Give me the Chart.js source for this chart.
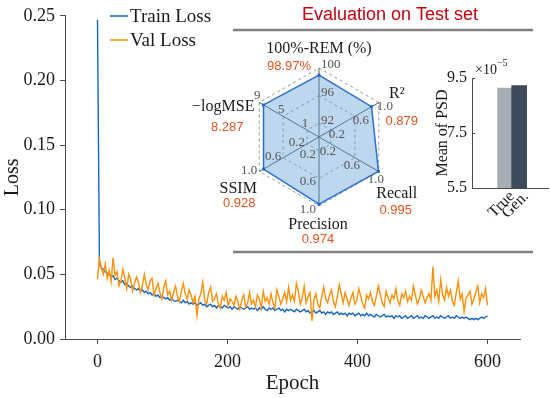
<!DOCTYPE html>
<html><head><meta charset="utf-8">
<script src="https://cdn.jsdelivr.net/npm/chart.js@4.4.1/dist/chart.umd.min.js"></script>
<style>
html,body{margin:0;padding:0;background:#fff;}
#wrap{position:relative;width:550px;height:398px;overflow:hidden;background:#fff;}
canvas{position:absolute;}
</style></head><body>
<div id="wrap">
<canvas id="main" width="550" height="398" style="left:0;top:0"></canvas>
<canvas id="radar" width="268" height="210" style="left:185px;top:40px"></canvas>
<canvas id="bar" width="130" height="170" style="left:420px;top:55px"></canvas>
</div>
<script>
// ---------------- data ----------------
const epochs = [
0,3,6,9,12,15,18,21,24,27,
30,33,36,39,42,45,48,51,54,57,
60,63,66,69,72,75,78,81,84,87,
90,93,96,99,102,105,108,111,114,117,
120,123,126,129,132,135,138,141,144,147,
150,153,156,159,162,165,168,171,174,177,
180,183,186,189,192,195,198,201,204,207,
210,213,216,219,222,225,228,231,234,237,
240,243,246,249,252,255,258,261,264,267,
270,273,276,279,282,285,288,291,294,297,
300,303,306,309,312,315,318,321,324,327,
330,333,336,339,342,345,348,351,354,357,
360,363,366,369,372,375,378,381,384,387,
390,393,396,399,402,405,408,411,414,417,
420,423,426,429,432,435,438,441,444,447,
450,453,456,459,462,465,468,471,474,477,
480,483,486,489,492,495,498,501,504,507,
510,513,516,519,522,525,528,531,534,537,
540,543,546,549,552,555,558,561,564,567,
570,573,576,579,582,585,588,591,594,597,
600];
const trainLoss = [
0.247,0.058,0.055,0.054,0.052,0.051,0.050,0.048,0.049,0.046,
0.047,0.045,0.044,0.045,0.042,0.043,0.041,0.040,0.041,0.039,
0.038,0.039,0.037,0.038,0.036,0.037,0.035,0.036,0.034,0.035,
0.033,0.034,0.032,0.033,0.032,0.031,0.032,0.030,0.031,0.030,
0.029,0.030,0.029,0.028,0.030,0.028,0.029,0.027,0.028,0.027,
0.028,0.026,0.027,0.028,0.026,0.027,0.025,0.026,0.027,0.025,
0.026,0.024,0.026,0.025,0.024,0.026,0.025,0.024,0.025,0.023,
0.025,0.024,0.023,0.025,0.024,0.023,0.024,0.025,0.023,0.024,
0.023,0.024,0.022,0.024,0.023,0.025,0.023,0.022,0.024,0.023,
0.024,0.022,0.023,0.024,0.022,0.023,0.021,0.023,0.022,0.023,
0.022,0.021,0.023,0.022,0.021,0.022,0.023,0.021,0.022,0.020,
0.021,0.022,0.020,0.021,0.022,0.020,0.021,0.019,0.021,0.020,
0.021,0.019,0.020,0.021,0.019,0.020,0.019,0.020,0.018,0.020,
0.019,0.020,0.018,0.019,0.020,0.018,0.019,0.018,0.020,0.018,
0.019,0.018,0.017,0.019,0.018,0.017,0.018,0.019,0.017,0.018,
0.017,0.018,0.016,0.018,0.017,0.018,0.016,0.017,0.018,0.016,
0.017,0.018,0.016,0.017,0.018,0.016,0.017,0.016,0.018,0.017,
0.016,0.017,0.018,0.016,0.017,0.016,0.018,0.017,0.016,0.017,
0.018,0.016,0.017,0.016,0.018,0.017,0.016,0.017,0.016,0.017,
0.016,0.015,0.016,0.015,0.016,0.015,0.016,0.017,0.016,0.017,
0.018];
const valLoss = [
0.046,0.062,0.055,0.050,0.058,0.047,0.053,0.044,0.063,0.049,
0.052,0.041,0.045,0.054,0.047,0.039,0.050,0.046,0.037,0.043,
0.048,0.044,0.036,0.041,0.050,0.042,0.038,0.045,0.047,0.034,
0.039,0.043,0.036,0.031,0.040,0.045,0.034,0.037,0.030,0.036,
0.041,0.033,0.029,0.037,0.043,0.035,0.031,0.038,0.034,0.028,
0.033,0.018,0.031,0.035,0.044,0.030,0.027,0.036,0.040,0.029,
0.031,0.035,0.027,0.024,0.033,0.030,0.036,0.026,0.031,0.029,
0.026,0.033,0.029,0.023,0.030,0.034,0.025,0.028,0.036,0.027,
0.030,0.025,0.034,0.031,0.024,0.037,0.029,0.032,0.027,0.035,
0.028,0.024,0.038,0.033,0.027,0.031,0.036,0.029,0.040,0.030,
0.034,0.029,0.043,0.037,0.027,0.032,0.041,0.028,0.033,0.036,
0.014,0.030,0.035,0.027,0.024,0.033,0.040,0.031,0.028,0.034,
0.038,0.029,0.025,0.033,0.042,0.035,0.028,0.036,0.031,0.026,
0.032,0.036,0.027,0.030,0.039,0.033,0.027,0.024,0.034,0.031,
0.036,0.029,0.026,0.033,0.041,0.035,0.028,0.025,0.037,0.032,
0.028,0.034,0.031,0.039,0.030,0.026,0.035,0.032,0.037,0.029,
0.033,0.030,0.041,0.034,0.027,0.031,0.038,0.033,0.028,0.032,
0.035,0.030,0.056,0.033,0.038,0.029,0.046,0.034,0.030,0.040,
0.033,0.038,0.029,0.026,0.036,0.045,0.031,0.035,0.021,0.032,
0.034,0.037,0.027,0.031,0.036,0.041,0.028,0.035,0.032,0.039,
0.026];
const seriesNames = ['Train Loss', 'Val Loss'];
const xTickValues = [0, 200, 400, 600];
const yTickStep = 0.05;

const metricNames = ['100%-REM (%)', 'R²', 'Recall', 'Precision', 'SSIM', '−logMSE'];
const metricValues = [98.97, 0.879, 0.995, 0.974, 0.928, 8.287];
const metricValueText = ['98.97%', '0.879', '0.995', '0.974', '0.928', '8.287'];
const metricAxisMin = [90, 0, 0, 0, 0, -1];
const metricAxisMax = [100, 1, 1, 1, 1, 9];
const metricGridLevels = [0, 0.2, 0.6, 1.0];
const metricTickLabels = [
  ['92', '96', '100'],
  ['0.2', '0.6', '1.0'],
  ['0.2', '0.6', '1.0'],
  ['0.2', '0.6', '1.0'],
  ['0.2', '0.6', '1.0'],
  ['1', '5', '9']
];

const psdCategories = ['True', 'Gen.'];
const psdValues = [9.13, 9.22];      // in units of 10^-5
const psdTicks = [5.5, 7.5, 9.5];
const psdExponent = '−5';

const titleText = 'Evaluation on Test set';

// ---------------- styles ----------------
const SERIF = '"Liberation Serif", "Times New Roman", serif';
const SANS = '"Liberation Sans", Arial, sans-serif';
const AXIS = '#4a4a4a';
const TXT = '#1a1a1a';
const RED_VAL = '#e2541f';

// ---------------- main loss chart ----------------
const mainDecor = {
  id: 'mainDecor',
  afterDraw(chart) {
    const ctx = chart.ctx, ca = chart.chartArea;
    ctx.save();
    ctx.fillStyle = TXT;
    ctx.textAlign = 'center'; ctx.textBaseline = 'middle';
    ctx.font = '21px ' + SERIF;
    ctx.fillText('Epoch', (ca.left + ca.right) / 2, 383);
    ctx.save();
    ctx.translate(13, (ca.top + ca.bottom) / 2);
    ctx.rotate(-Math.PI / 2);
    ctx.font = '20px ' + SERIF;
    ctx.fillText('Loss', 0, 0);
    ctx.restore();
    ctx.font = '19px ' + SERIF;
    ctx.textAlign = 'left';
    chart.data.datasets.forEach((ds, i) => {
      const y = 16 + 24 * i;
      ctx.strokeStyle = ds.borderColor; ctx.lineWidth = 1.5;
      ctx.beginPath(); ctx.moveTo(110, y); ctx.lineTo(128, y); ctx.stroke();
      ctx.fillStyle = TXT;
      ctx.fillText(ds.label, 130, y + 1);
    });
    ctx.fillStyle = '#c3000c';
    ctx.font = '18px ' + SANS;
    ctx.textAlign = 'center';
    ctx.fillText(titleText, 390, 15);
    ctx.strokeStyle = '#808080'; ctx.lineWidth = 2.5;
    ctx.beginPath(); ctx.moveTo(233, 30); ctx.lineTo(533, 30); ctx.stroke();
    ctx.beginPath(); ctx.moveTo(233, 252); ctx.lineTo(533, 252); ctx.stroke();
    ctx.restore();
  }
};

new Chart(document.getElementById('main'), {
  type: 'line',
  data: {
    datasets: [
      { label: seriesNames[0], data: epochs.map((e, i) => ({ x: e, y: trainLoss[i] })),
        borderColor: '#1764c4', borderWidth: 1.4, pointRadius: 0, tension: 0, order: 1 },
      { label: seriesNames[1], data: epochs.map((e, i) => ({ x: e, y: valLoss[i] })),
        borderColor: '#ff9008', borderWidth: 1.4, pointRadius: 0, tension: 0, order: 0 }
    ]
  },
  options: {
    responsive: false, animation: false, events: [],
    layout: { padding: { top: 15, right: 30, left: 0, bottom: 0 } },
    plugins: { legend: { display: false }, tooltip: { enabled: false } },
    scales: {
      x: {
        type: 'linear', min: -50, max: 650,
        afterBuildTicks: s => { s.ticks = xTickValues.map(v => ({ value: v })); },
        afterFit: s => { s.height = 59; },
        grid: { drawOnChartArea: false, drawTicks: true, tickLength: 5, color: AXIS },
        border: { color: AXIS, width: 1 },
        ticks: { font: { family: SERIF, size: 18 }, color: TXT, padding: 7, maxRotation: 0 }
      },
      y: {
        min: 0, max: 0.25,
        afterFit: s => { s.width = 65; },
        grid: { drawOnChartArea: false, drawTicks: true, tickLength: 5, color: AXIS },
        border: { color: AXIS, width: 1 },
        ticks: { stepSize: yTickStep, callback: v => Number(v).toFixed(2),
                 font: { family: SERIF, size: 18 }, color: TXT, padding: 5 }
      }
    }
  },
  plugins: [mainDecor]
});

// ---------------- radar chart ----------------
const radarLabels = {
  id: 'radarLabels',
  afterDraw(chart) {
    const ctx = chart.ctx, r = chart.scales.r;
    const tickStyle = [
      { a: 'left', dx: 2, dy: -3 }, { a: 'center', dx: 6, dy: 4.5 }, { a: 'center', dx: -3, dy: 8 },
      { a: 'right', dx: -3, dy: 3.5 }, { a: 'right', dx: -2, dy: -1 }, { a: 'center', dx: -2, dy: -6.5 }
    ];
    const nameOff = [[0, -19], [18, -9], [18, 22], [-1, 19], [-21, 17], [-36, 4]];
    const valOff = [[-30, -2], [23, 19], [17, 38.5], [-1, 33], [-20, 32], [-32, 25]];
    ctx.save();
    ctx.textBaseline = 'middle';
    metricNames.forEach((name, i) => {
      ctx.font = '13px ' + SERIF; ctx.fillStyle = '#555555';
      ctx.textAlign = tickStyle[i].a;
      metricGridLevels.slice(1).forEach((lv, k) => {
        const p = r.getPointPosition(i, r.getDistanceFromCenterForValue(lv));
        ctx.fillText(metricTickLabels[i][k], p.x + tickStyle[i].dx, p.y + tickStyle[i].dy);
      });
      const o = r.getPointPosition(i, r.getDistanceFromCenterForValue(1));
      ctx.textAlign = 'center';
      ctx.font = '16px ' + SERIF; ctx.fillStyle = TXT;
      ctx.fillText(name, o.x + nameOff[i][0], o.y + nameOff[i][1]);
      ctx.font = '13px ' + SANS; ctx.fillStyle = RED_VAL;
      ctx.fillText(metricValueText[i], o.x + valOff[i][0], o.y + valOff[i][1]);
    });
    ctx.restore();
  }
};

new Chart(document.getElementById('radar'), {
  type: 'radar',
  data: {
    labels: metricNames,
    datasets: [{
      data: metricValues.map((v, i) => (v - metricAxisMin[i]) / (metricAxisMax[i] - metricAxisMin[i])),
      backgroundColor: 'rgba(91,155,213,0.40)', borderColor: '#2a6fd1', borderWidth: 1.5, fill: true,
      pointRadius: 2, pointStyle: 'rect', pointBackgroundColor: '#1f66c9', pointBorderColor: '#1f66c9', pointBorderWidth: 0
    }]
  },
  options: {
    responsive: false, animation: false, events: [],
    layout: { padding: { left: 65, right: 65, top: 28, bottom: 44 } },
    plugins: { legend: { display: false }, tooltip: { enabled: false } },
    scales: {
      r: {
        min: 0, max: 1,
        afterBuildTicks: s => { s.ticks = metricGridLevels.map(v => ({ value: v })); },
        ticks: { display: false },
        pointLabels: { display: false },
        grid: { color: '#9a9a9a', lineWidth: 1 },
        border: { dash: [3, 3] },
        angleLines: { color: '#4f5b66', lineWidth: 1 }
      }
    }
  },
  plugins: [radarLabels]
});

// ---------------- PSD bar chart ----------------
const barDecor = {
  id: 'barDecor',
  afterDraw(chart) {
    const ctx = chart.ctx, ca = chart.chartArea, y = chart.scales.y, x = chart.scales.x;
    ctx.save();
    ctx.strokeStyle = AXIS; ctx.lineWidth = 1;
    psdTicks.forEach(v => {
      const py = Math.round(y.getPixelForValue(v)) + 0.5;
      ctx.beginPath(); ctx.moveTo(ca.left, py); ctx.lineTo(ca.left + 3, py); ctx.stroke();
    });
    ctx.fillStyle = TXT; ctx.textBaseline = 'middle';
    // rotated category labels
    ctx.font = '16px ' + SERIF;
    ctx.textAlign = 'right';
    psdCategories.forEach((c, i) => {
      const px = x.getPixelForValue(i + 1);
      ctx.save();
      ctx.translate(px + 7, ca.bottom + 6);
      ctx.rotate(-Math.PI / 4);
      ctx.fillText(c, 0, 0);
      ctx.restore();
    });
    ctx.save();
    ctx.translate(23, (ca.top + ca.bottom) / 2);
    ctx.rotate(-Math.PI / 2);
    ctx.textAlign = 'center';
    ctx.font = '16px ' + SERIF;
    ctx.fillText('Mean of PSD', 0, 0);
    ctx.restore();
    ctx.textAlign = 'left';
    ctx.font = '14px ' + SERIF;
    ctx.fillText('×10', ca.left + 3, 15);
    const w = ctx.measureText('×10').width;
    ctx.font = '10px ' + SERIF;
    ctx.fillText(psdExponent, ca.left + 3 + w, 8);
    ctx.restore();
  }
};

new Chart(document.getElementById('bar'), {
  type: 'bar',
  data: {
    datasets: [{
      data: psdCategories.map((c, i) => ({ x: i + 1, y: psdValues[i] })),
      backgroundColor: ['#a6adb4', '#3d4b5a'], barThickness: 15
    }]
  },
  options: {
    responsive: false, animation: false, events: [],
    layout: { padding: { top: 23, right: 2, left: 0, bottom: 0 } },
    plugins: { legend: { display: false }, tooltip: { enabled: false } },
    scales: {
      x: {
        type: 'linear', min: 0, max: 2.7,
        afterBuildTicks: s => { s.ticks = psdCategories.map((c, i) => ({ value: i + 1 })); },
        afterFit: s => { s.height = 37; },
        grid: { drawOnChartArea: false, drawTicks: false, color: AXIS },
        border: { color: AXIS, width: 1 },
        ticks: { display: false }
      },
      y: {
        min: 5.5, max: 9.5,
        afterBuildTicks: s => { s.ticks = psdTicks.map(v => ({ value: v })); },
        afterFit: s => { s.width = 52; },
        grid: { drawOnChartArea: false, drawTicks: false, color: AXIS },
        border: { color: AXIS, width: 1 },
        ticks: { callback: v => Number(v).toFixed(1), font: { family: SERIF, size: 16 }, color: TXT, padding: 5 }
      }
    }
  },
  plugins: [barDecor]
});
</script>
</body></html>
